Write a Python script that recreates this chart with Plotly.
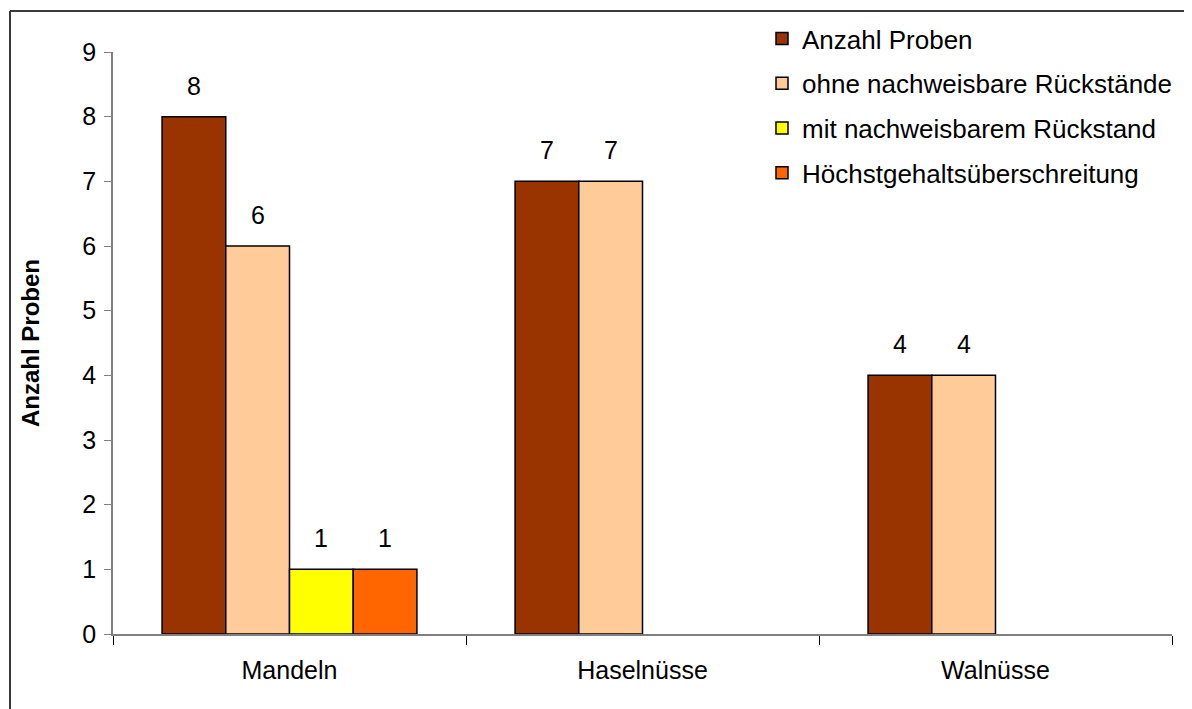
import plotly.graph_objects as go

categories = ["Mandeln", "Haselnüsse", "Walnüsse"]
series_names = ["Anzahl Proben", "ohne nachweisbare Rückstände",
                "mit nachweisbarem Rückstand", "Höchstgehaltsüberschreitung"]
anzahl_proben = [8, 7, 4]
ohne_rueckstaende = [6, 7, 4]
mit_rueckstand = [1, None, None]
hoechstgehalt = [1, None, None]
series_values = [anzahl_proben, ohne_rueckstaende, mit_rueckstand, hoechstgehalt]
series_colors = ["#993300", "#FFCC99", "#FFFF00", "#FF6600"]
y_ticks = list(range(0, 10))

FONT = "Liberation Sans, Arial, sans-serif"
FS = 25

# the page body has an 8px margin; work in screen coordinates and shift
OFF = 8
W, H = 1192, 709
L, T = 113 - OFF, 52 - OFF
PR, PB = 1172 - OFF, 634 - OFF
R, B = W - PR, H - PB
PW, PH = PR - L, PB - T

BARGAP = 0.278
n = len(series_values)
bw = (1 - BARGAP) / n

fig = go.Figure()
annotations = []
for j, (name, vals, col) in enumerate(zip(series_names, series_values, series_colors)):
    fig.add_trace(go.Bar(
        x=categories, y=vals, name=name,
        marker=dict(color=col, line=dict(color="#000000", width=1.5)),
        legendgroup=f"g{j}",
    ))
    for i, v in enumerate(vals):
        if v is None:
            continue
        annotations.append(dict(
            x=i + (-(n - 1) / 2 + j) * bw, y=v, xref="x", yref="y",
            text=str(v), showarrow=False, yanchor="bottom", yshift=15,
            font=dict(family=FONT, size=FS, color="#000000"),
        ))

# y-axis title
annotations.append(dict(
    x=(30 - OFF - L) / PW, y=0.5, xref="paper", yref="paper",
    text="<b>Anzahl Proben</b>", textangle=-90, showarrow=False,
    xanchor="center", yanchor="middle",
    font=dict(family=FONT, size=24, color="#000000"),
))

bx = (10 - OFF - L) / PW
by = 1 + (T - (11 - OFF)) / PH
shapes = [
    dict(type="line", xref="paper", yref="paper", x0=bx, x1=1.2, y0=by, y1=by,
         line=dict(color="#3a3a3a", width=2)),
    dict(type="line", xref="paper", yref="paper", x0=bx, x1=bx, y0=by, y1=-0.3,
         line=dict(color="#3a3a3a", width=2)),
]

fig.update_layout(
    width=W, height=H,
    margin=dict(l=L, r=R, t=T, b=B, autoexpand=False),
    paper_bgcolor="white", plot_bgcolor="white",
    barmode="group", bargap=BARGAP, bargroupgap=0,
    font=dict(family=FONT, size=FS, color="#000000"),
    showlegend=True,
    legend=dict(
        x=(762 - OFF - L) / PW, xanchor="left",
        y=1 + (T - (15 - OFF)) / PH, yanchor="top",
        traceorder="grouped", tracegroupgap=8,
        font=dict(family=FONT, size=26, color="#000000"),
        bgcolor="rgba(0,0,0,0)",
    ),
    xaxis=dict(
        type="category", showgrid=False, zeroline=False,
        showline=True, linecolor="#808080", linewidth=1.5,
        ticks="outside", tickson="boundaries", ticklen=9, tickcolor="#000000",
        tickwidth=1, ticklabelstandoff=13,
        tickfont=dict(family=FONT, size=FS, color="#000000"),
    ),
    yaxis=dict(
        range=[0, 9], tickvals=y_ticks, showgrid=False, zeroline=False,
        showline=True, linecolor="#808080", linewidth=1.5,
        ticks="outside", ticklen=7, tickcolor="#808080", tickwidth=1,
        ticklabelstandoff=3,
        tickfont=dict(family=FONT, size=FS, color="#000000"),
    ),
    annotations=annotations,
    shapes=shapes,
)

fig.write_html("out.html")
